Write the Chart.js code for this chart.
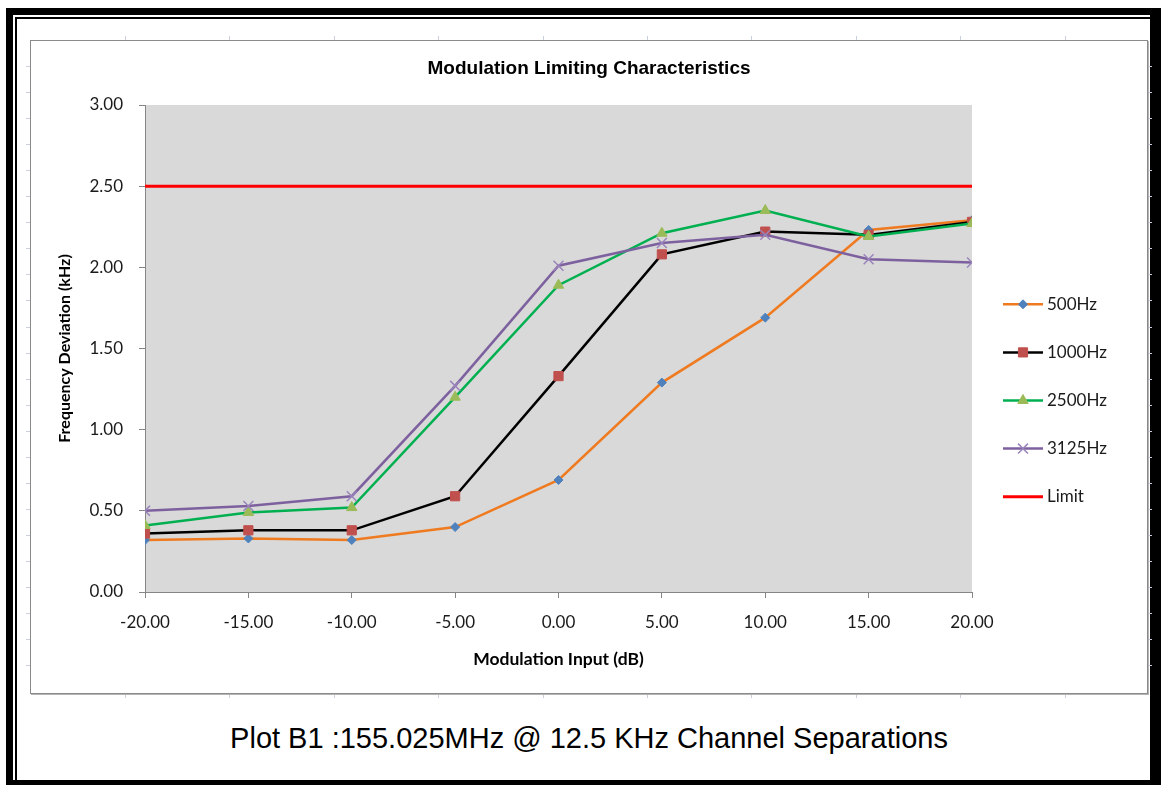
<!DOCTYPE html>
<html>
<head>
<meta charset="utf-8">
<title>Modulation Limiting Characteristics</title>
<script src="https://cdn.jsdelivr.net/npm/chart.js@4.4.0/dist/chart.umd.min.js"></script>
<style>
  html, body { margin: 0; padding: 0; background: #fff; }
  body { width: 1161px; height: 785px; position: relative; overflow: hidden; }
  #frame { position: absolute; left: 6px; top: 8px; width: 1155px; height: 777px; background: #000; }
  #paper { position: absolute; left: 13px; top: 15px; width: 1137px; height: 765px; background: #fff; }
  #paper-line { position: absolute; left: 15px; top: 17px; width: 1135px; height: 763px; box-sizing: border-box;
    border-top: 2px solid #000; border-left: 2px solid #000; background: #fff; }
  #chart-box { position: absolute; left: 30px; top: 40px; width: 1118px; height: 654px; box-sizing: border-box;
    border: 1px solid #8a8a8a; box-shadow: 1px 1px 0 #b4b4b4; background: #fff; }
  #chart-box canvas { position: absolute; left: 0; top: 0; }
  .pg-tick { position: absolute; background: #c9cfdc; }
  #caption { position: absolute; left: 0; top: 724px; width: 1178px; text-align: center;
    font: 29px/29px "Liberation Sans", Arial, sans-serif; color: #000; }
</style>
</head>
<body>
<div id="frame"></div>
<div id="paper"></div>
<div id="paper-line"></div>
<div id="chart-box"><canvas id="chart" width="1116" height="652"></canvas></div>
<div id="caption">Plot B1 :155.025MHz @ 12.5 KHz Channel Separations</div>

<script>
// values
const inputDb = [-20, -15, -10, -5, 0, 5, 10, 15, 20];
const dev500  = [0.32, 0.33, 0.32, 0.40, 0.69, 1.29, 1.69, 2.23, 2.29];
const dev1000 = [0.36, 0.38, 0.38, 0.59, 1.33, 2.08, 2.22, 2.20, 2.28];
const dev2500 = [0.41, 0.49, 0.52, 1.20, 1.89, 2.21, 2.35, 2.19, 2.27];
const dev3125 = [0.50, 0.53, 0.59, 1.27, 2.01, 2.15, 2.20, 2.05, 2.03];
const limitKhz = [2.5, 2.5, 2.5, 2.5, 2.5, 2.5, 2.5, 2.5, 2.5];

const seriesNames = ['500Hz', '1000Hz', '2500Hz', '3125Hz', 'Limit'];
const chartTitle = 'Modulation Limiting Characteristics';
const xTitle = 'Modulation Input (dB)';
const yTitle = 'Frequency Deviation (kHz)';

// faint page-grid ticks around the chart area (excel print layout)
const page = document.body;
function pageTick(x, y, w, h) {
  const d = document.createElement('div');
  d.className = 'pg-tick';
  d.style.left = x + 'px'; d.style.top = y + 'px';
  d.style.width = w + 'px'; d.style.height = h + 'px';
  page.insertBefore(d, document.getElementById('chart-box'));
}
for (let k = 0; k < 10; k++) {
  const x = Math.round(125 + 104.4 * k);
  pageTick(x, 36, 1, 4);
  pageTick(x, 694, 1, 4);
}
for (let k = 0; k < 24; k++) {
  const y = Math.round(66 + 26.05 * k);
  pageTick(26, y, 4, 1);
  pageTick(1148, y, 4, 1);
}

function pts(values) {
  return inputDb.map((x, i) => ({ x: x, y: values[i] }));
}

const tickFont = { family: 'Lato, "Open Sans", sans-serif', size: 17 };
const xTitleFont = { family: 'Lato, "Open Sans", sans-serif', size: 17.5, weight: 'bold' };
const yTitleFont = { family: 'Lato, "Open Sans", sans-serif', size: 16, weight: 'bold' };

// grey plot area, title and the legend on the right
const excelLook = {
  id: 'excelLook',
  beforeDraw(chart) {
    const { ctx, chartArea: a } = chart;
    ctx.save();
    ctx.fillStyle = '#d9d9d9';
    ctx.fillRect(a.left, a.top, a.right - a.left, a.bottom - a.top);
    ctx.restore();
  },
  afterDraw(chart) {
    const ctx = chart.ctx;
    ctx.save();
    ctx.fillStyle = '#000';
    ctx.font = 'bold 19px "Liberation Sans", Arial, sans-serif';
    ctx.textAlign = 'center';
    ctx.textBaseline = 'middle';
    ctx.fillText(chartTitle, chart.width / 2, 28);

    // legend
    const lx = 972, ly = 263.3, step = 48.1;
    chart.data.datasets.forEach((ds, i) => {
      const y = ly + i * step;
      ctx.strokeStyle = ds.borderColor;
      ctx.lineWidth = ds.borderWidth;
      ctx.beginPath();
      ctx.moveTo(lx, y);
      ctx.lineTo(lx + 40, y);
      ctx.stroke();
      if (ds.pointRadius > 0) {
        ctx.fillStyle = ds.pointBackgroundColor;
        ctx.strokeStyle = ds.pointBorderColor;
        ctx.lineWidth = ds.pointBorderWidth;
        Chart.helpers.drawPoint(ctx, {
          pointStyle: ds.pointStyle, radius: ds.pointRadius, rotation: 0, borderWidth: ds.pointBorderWidth
        }, lx + 20, y);
      }
      ctx.fillStyle = '#1a1a1a';
      ctx.font = '17px Lato, "Open Sans", sans-serif';
      ctx.textAlign = 'left';
      ctx.fillText(ds.label, lx + 44, y);
    });
    ctx.restore();
  }
};

new Chart(document.getElementById('chart'), {
  type: 'line',
  data: {
    datasets: [
      {
        label: seriesNames[0], data: pts(dev500), order: 5,
        borderColor: '#ef7a1f', borderWidth: 2.5,
        pointStyle: 'rectRot', pointRadius: 4.5, pointBackgroundColor: '#4f81bd',
        pointBorderColor: '#4f81bd', pointBorderWidth: 1
      },
      {
        label: seriesNames[1], data: pts(dev1000), order: 4,
        borderColor: '#000000', borderWidth: 2.5,
        pointStyle: 'rect', pointRadius: 6.5, pointBackgroundColor: '#c0504d',
        pointBorderColor: '#c0504d', pointBorderWidth: 1
      },
      {
        label: seriesNames[2], data: pts(dev2500), order: 3,
        borderColor: '#00b050', borderWidth: 2.5,
        pointStyle: 'triangle', pointRadius: 6, pointBackgroundColor: '#9bbb59',
        pointBorderColor: '#9bbb59', pointBorderWidth: 1
      },
      {
        label: seriesNames[3], data: pts(dev3125), order: 2,
        borderColor: '#7d619f', borderWidth: 2.5,
        pointStyle: 'crossRot', pointRadius: 7, pointBackgroundColor: '#9a84bb',
        pointBorderColor: '#9a84bb', pointBorderWidth: 1.5
      },
      {
        label: seriesNames[4], data: pts(limitKhz), order: 1,
        borderColor: '#ff0000', borderWidth: 3, pointRadius: 0
      }
    ]
  },
  options: {
    responsive: false,
    animation: false,
    devicePixelRatio: 1,
    layout: { padding: { top: 64, right: 175, bottom: 0, left: 0 } },
    elements: { line: { tension: 0 } },
    plugins: {
      legend: { display: false },
      title: { display: false },
      tooltip: { enabled: false }
    },
    scales: {
      x: {
        type: 'linear', min: -20, max: 20,
        ticks: { stepSize: 5, padding: 14, color: '#1a1a1a', font: tickFont, maxRotation: 0,
          callback: v => v.toFixed(2) },
        grid: { drawOnChartArea: false, tickLength: 6, color: '#868686' },
        border: { color: '#868686' },
        title: { display: true, text: xTitle, color: '#000', font: xTitleFont, padding: { top: 0, bottom: 23.5 } },
        afterFit: s => { s.height = 101; }
      },
      y: {
        min: 0, max: 3,
        ticks: { stepSize: 0.5, padding: 16, color: '#1a1a1a', font: tickFont,
          callback: v => v.toFixed(2) },
        grid: { drawOnChartArea: false, tickLength: 6, color: '#868686' },
        border: { color: '#868686' },
        title: { display: true, text: yTitle, color: '#000', font: yTitleFont, padding: { top: 24.4, bottom: 0 } },
        afterFit: s => { s.width = 114; }
      }
    }
  },
  plugins: [excelLook]
});
</script>
</body>
</html>
